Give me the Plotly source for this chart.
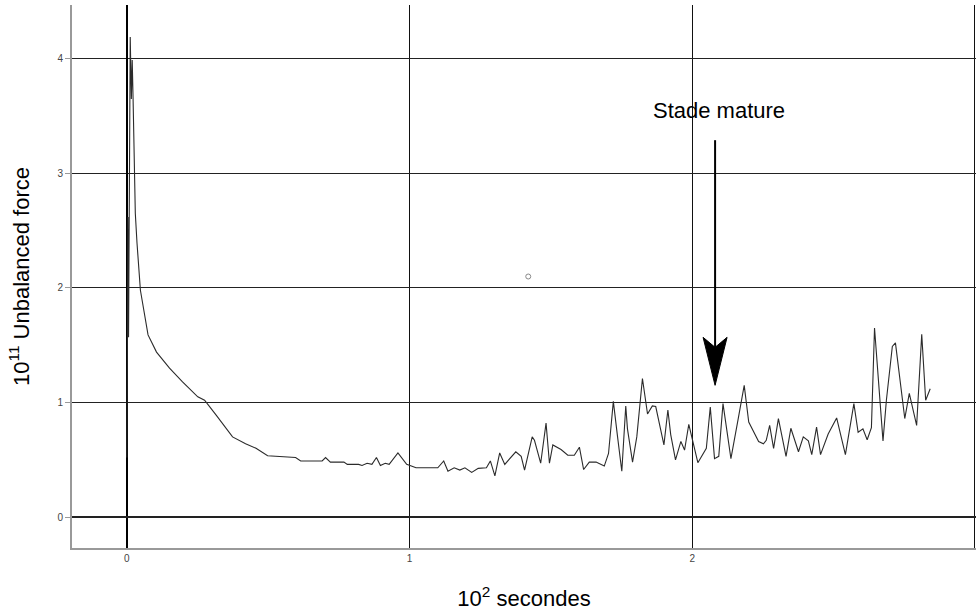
import plotly.graph_objects as go

# time in 10^2 s, unbalanced force in 10^11
time = [0.000, 0.004, 0.006, 0.012, 0.016, 0.019, 0.022, 0.026, 0.030, 0.036,
        0.048, 0.075, 0.105, 0.151, 0.197, 0.251, 0.275, 0.316, 0.374, 0.420,
        0.457, 0.498, 0.597, 0.615, 0.691, 0.703, 0.720, 0.738, 0.768, 0.780,
        0.820, 0.832, 0.850, 0.867, 0.883, 0.897, 0.914, 0.928, 0.959, 0.990,
        1.023, 1.100, 1.121, 1.136, 1.158, 1.178, 1.196, 1.220, 1.243, 1.272,
        1.286, 1.302, 1.319, 1.337, 1.376, 1.395, 1.407, 1.434, 1.442, 1.464,
        1.483, 1.495, 1.507, 1.536, 1.560, 1.583, 1.601, 1.616, 1.636, 1.660,
        1.689, 1.704, 1.721, 1.736, 1.751, 1.765, 1.771, 1.789, 1.804, 1.824,
        1.842, 1.859, 1.871, 1.900, 1.914, 1.924, 1.941, 1.960, 1.973, 1.988,
        2.004, 2.020, 2.050, 2.064, 2.079, 2.094, 2.109, 2.137, 2.164, 2.184,
        2.200, 2.217, 2.235, 2.252, 2.262, 2.274, 2.288, 2.305, 2.332, 2.349,
        2.376, 2.393, 2.411, 2.423, 2.440, 2.454, 2.481, 2.511, 2.542, 2.572,
        2.587, 2.604, 2.619, 2.634, 2.645, 2.675, 2.687, 2.708, 2.719, 2.752,
        2.768, 2.794, 2.812, 2.826, 2.842]
force = [0.52, 2.62, 1.57, 4.19, 3.65, 3.99, 3.66, 3.10, 2.65, 2.39,
         1.98, 1.59, 1.44, 1.30, 1.18, 1.05, 1.02, 0.89, 0.70, 0.64,
         0.60, 0.535, 0.52, 0.49, 0.49, 0.52, 0.48, 0.48, 0.48, 0.46,
         0.46, 0.45, 0.47, 0.46, 0.52, 0.45, 0.47, 0.46, 0.56, 0.46,
         0.43, 0.43, 0.49, 0.40, 0.43, 0.41, 0.43, 0.39, 0.425, 0.43,
         0.49, 0.36, 0.56, 0.46, 0.57, 0.53, 0.41, 0.70, 0.67, 0.47,
         0.82, 0.47, 0.63, 0.59, 0.54, 0.54, 0.61, 0.415, 0.48, 0.48,
         0.445, 0.555, 1.01, 0.70, 0.40, 0.97, 0.77, 0.48, 0.70, 1.21,
         0.90, 0.97, 0.965, 0.63, 0.935, 0.72, 0.50, 0.66, 0.585, 0.81,
         0.65, 0.475, 0.60, 0.96, 0.51, 0.53, 0.99, 0.51, 0.875, 1.15,
         0.83, 0.745, 0.66, 0.64, 0.67, 0.80, 0.60, 0.86, 0.53, 0.775,
         0.57, 0.70, 0.665, 0.545, 0.785, 0.545, 0.725, 0.865, 0.545, 0.99,
         0.74, 0.77, 0.675, 0.78, 1.65, 0.665, 1.02, 1.49, 1.52, 0.86,
         1.08, 0.80, 1.595, 1.02, 1.12]

# isolated point
dot_time = [1.42]
dot_force = [2.10]

x_ticks = [0, 1, 2, 3]
y_ticks = [0, 1, 2, 3, 4]

# annotation positions
label_text = "Stade mature"
arrow_x = 2.081
arrow_tip_y = 1.15
arrow_top_y = 3.29
label_y = 3.55

title_font = dict(family="Liberation Sans, Arial, sans-serif", size=22, color="#000000")
axis_font = dict(family="Liberation Sans, Arial, sans-serif", size=10, color="#444444")

fig = go.Figure()
fig.add_trace(go.Scatter(x=time, y=force, mode="lines",
                         line=dict(color="#2b2b2b", width=1.1),
                         showlegend=False, hoverinfo="skip"))
fig.add_trace(go.Scatter(x=dot_time, y=dot_force, mode="markers",
                         marker=dict(symbol="circle-open", size=5,
                                     color="#888888", line=dict(width=1)),
                         showlegend=False))

fig.update_xaxes(range=[-0.194, 3.004], tickvals=x_ticks, ticktext=[str(v) for v in x_ticks],
                 automargin=False,
                 showgrid=True, gridcolor="#111111", gridwidth=1,
                 zeroline=True, zerolinecolor="#000000", zerolinewidth=1.5,
                 showline=True, linecolor="#999999", linewidth=2,
                 ticks="", tickfont=axis_font,
                 title=dict(text="10<sup>2</sup> secondes", font=title_font, standoff=28))
fig.update_yaxes(range=[-0.27, 4.47], tickvals=y_ticks, ticktext=[str(v) for v in y_ticks],
                 automargin=False,
                 showgrid=True, gridcolor="#222222", gridwidth=1.3,
                 zeroline=True, zerolinecolor="#222222", zerolinewidth=1.5,
                 showline=True, linecolor="#999999", linewidth=2,
                 ticks="outside", ticklen=5, tickcolor="#999999", tickwidth=1,
                 tickfont=axis_font,
                 title=dict(text="10<sup>11</sup> Unbalanced force", font=title_font, standoff=22))

fig.add_annotation(x=arrow_x + 0.014, y=label_y, text=label_text, showarrow=False,
                   font=title_font)
# arrow shaft
fig.add_shape(type="line", x0=arrow_x, x1=arrow_x, y0=arrow_top_y, y1=arrow_tip_y + 0.3,
              line=dict(color="#000000", width=2))
# arrow head (pixel-sized, anchored at tip)
fig.add_shape(type="path", xref="x", yref="y", xsizemode="pixel", ysizemode="pixel",
              xanchor=arrow_x, yanchor=arrow_tip_y,
              path="M 0 0 L -12 48 L 0 38 L 12 48 Z",
              fillcolor="#000000", line=dict(color="#000000", width=1))

fig.update_layout(width=976, height=615,
                  margin=dict(l=72, r=0, t=5, b=67),
                  paper_bgcolor="#ffffff", plot_bgcolor="#ffffff",
                  font=dict(family="Liberation Sans, Arial, sans-serif"))

fig.write_html("out.html", config={"displayModeBar": False},
               post_script="document.body.style.margin='0px';document.body.style.overflow='hidden';")
